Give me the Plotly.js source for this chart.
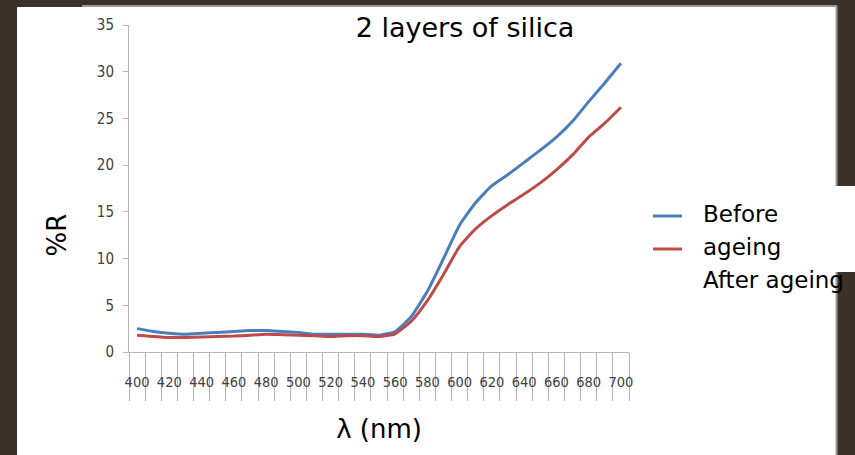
<!DOCTYPE html>
<html>
<head>
<meta charset="utf-8">
<script src="https://cdn.plot.ly/plotly-3.0.1.min.js"></script>
<style>html,body{margin:0;padding:0;background:#3b312b;}#chart{width:855px;height:455px;}</style>
</head>
<body>
<div id="chart"></div>
<script>
// ---- data ----
const wavelengths = [400,410,420,430,440,450,460,470,480,490,500,510,520,530,540,550,560,570,580,590,600,610,620,630,640,650,660,670,680,690,700];
const beforeAgeing = [2.5,2.2,2.0,1.9,2.0,2.1,2.2,2.3,2.3,2.2,2.1,1.9,1.9,1.9,1.9,1.8,2.2,3.8,6.5,10.0,13.6,16.0,17.8,19.0,20.3,21.6,23.0,24.7,26.8,28.8,30.9];
const afterAgeing  = [1.8,1.65,1.55,1.55,1.6,1.65,1.7,1.8,1.9,1.85,1.8,1.75,1.65,1.75,1.75,1.65,1.95,3.3,5.5,8.3,11.3,13.2,14.6,15.8,16.9,18.1,19.5,21.1,23.0,24.5,26.2];
const seriesNames = ['Before ageing','After ageing'];
const xTickVals = [400,420,440,460,480,500,520,540,560,580,600,620,640,660,680,700];
const xTickText = ['400','420','440','460','480','500','520','540','560','580','600','620','640','660','680','700'];
const yTickVals = [0,5,10,15,20,25,30,35];
const chartTitle = '2 layers of silica';
const xTitle = 'λ (nm)';
const yTitle = '%R';
const legendLines = ['Before', 'ageing', 'After ageing'];

// ---- geometry helpers (pixel -> paper) ----
const W = 855, H = 455, L = 129, R = 226, T = 25, B = 103;
const pw = W - L - R, ph = H - T - B;
const px = v => (v - L) / pw;
const py = v => (H - B - v) / ph;

const BLUE = '#4a7ebb', RED = '#be4b48', AX = '#b5b5b5', DARK = '#3b312b';
const tickFont = "'Liberation Sans Narrow','DejaVu Sans Condensed','Arial Narrow',sans-serif";
const textFont = "'DejaVu Sans',sans-serif";

const traces = [
  {x: wavelengths, y: beforeAgeing, name: seriesNames[0], type: 'scatter', mode: 'lines',
   line: {color: BLUE, width: 3, shape: 'spline', smoothing: 0.5}, showlegend: false},
  {x: wavelengths, y: afterAgeing, name: seriesNames[1], type: 'scatter', mode: 'lines',
   line: {color: RED, width: 3, shape: 'spline', smoothing: 0.5}, showlegend: false}
];

const legendY = [214, 247, 280];
const annotations = legendLines.map((t, i) => ({
  text: t, xref: 'paper', yref: 'paper', x: px(701), y: py(legendY[i]), xanchor: 'left', yanchor: 'middle',
  align: 'left', showarrow: false, font: {family: textFont, size: 23, color: '#000'}
}));
annotations.push({
  text: yTitle, xref: 'paper', yref: 'paper', x: px(56.5), y: py(235), xanchor: 'center', yanchor: 'middle',
  textangle: -90, showarrow: false, font: {family: textFont, size: 26, color: '#000'}
});

const layout = {
  width: W, height: H,
  margin: {l: L, r: R, t: T, b: B, pad: 0},
  paper_bgcolor: DARK, plot_bgcolor: 'rgba(0,0,0,0)',
  showlegend: false,
  title: {text: chartTitle, x: 465 / W, xanchor: 'center', y: 1 - 28 / H, yanchor: 'middle',
          font: {family: textFont, size: 27, color: '#000'}},
  xaxis: {
    range: [395, 705], showgrid: false, zeroline: false,
    showline: true, linecolor: AX, linewidth: 1,
    tickmode: 'array', tickvals: xTickVals, ticktext: xTickText, ticks: '',
    tickfont: {family: tickFont, size: 14.5, color: '#404040'},
    ticklabelstandoff: 17,
    minor: {tickmode: 'linear', tick0: 395, dtick: 10, ticks: 'outside', ticklen: 48, tickcolor: AX, tickwidth: 1, showgrid: false},
    title: {text: xTitle, font: {family: textFont, size: 26, color: '#000'}, standoff: 30},
    automargin: false
  },
  xaxis2: {
    overlaying: 'x', anchor: 'y', side: 'bottom', range: [395, 705],
    showgrid: false, zeroline: false, showline: false, showticklabels: false,
    tickmode: 'array', tickvals: [395, 705], ticks: 'outside', ticklen: 98, tickcolor: AX, tickwidth: 1
  },
  yaxis: {
    range: [0, 35], showgrid: false, zeroline: false,
    showline: true, linecolor: AX, linewidth: 1,
    tickmode: 'array', tickvals: yTickVals, ticks: 'outside', ticklen: 5, tickcolor: AX,
    tickfont: {family: tickFont, size: 15, color: '#404040'},
    ticklabelstandoff: 6,
    automargin: false
  },
  shapes: [
    {type: 'rect', xref: 'paper', yref: 'paper', x0: px(17), x1: px(837), y0: py(470), y1: py(7),
     fillcolor: '#ffffff', line: {width: 0}, layer: 'below'},
    {type: 'rect', xref: 'paper', yref: 'paper', x0: px(836), x1: px(860), y0: py(272), y1: py(186),
     fillcolor: '#ffffff', line: {width: 0}, layer: 'below'},
    {type: 'line', xref: 'paper', yref: 'paper', x0: px(82), x1: px(837), y0: py(6), y1: py(6),
     line: {color: '#9a9a9a', width: 2}, layer: 'below'},
    {type: 'line', xref: 'paper', yref: 'paper', x0: px(836.5), x1: px(836.5), y0: py(6), y1: py(186),
     line: {color: '#9a9a9a', width: 2}, layer: 'below'},
    {type: 'line', xref: 'paper', yref: 'paper', x0: px(836.5), x1: px(836.5), y0: py(272), y1: py(470),
     line: {color: '#9a9a9a', width: 2}, layer: 'below'},
    {type: 'line', xref: 'paper', yref: 'paper', x0: px(653), x1: px(682), y0: py(216), y1: py(216),
     line: {color: BLUE, width: 3}},
    {type: 'line', xref: 'paper', yref: 'paper', x0: px(653), x1: px(682), y0: py(249), y1: py(249),
     line: {color: RED, width: 3}}
  ],
  annotations: annotations
};

Plotly.newPlot('chart', traces, layout, {displayModeBar: false, staticPlot: true});
</script>
</body>
</html>
